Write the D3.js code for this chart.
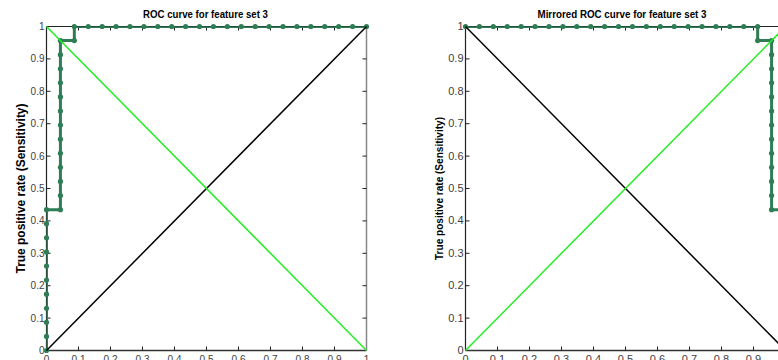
<!DOCTYPE html>
<html>
<head>
<meta charset="utf-8">
<script src="https://cdn.jsdelivr.net/npm/d3@7"></script>
<style>
  body { margin: 0; background: #fff; }
  svg { display: block; font-family: "Liberation Sans", Arial, sans-serif; }
</style>
</head>
<body>
<script>
// counts (23 positives, 23 negatives)
const total = 23;
const fpCount = [0,0,0,0,0,0,0,0,0,0,0,
                 1,1,1,1,1,1,1,1,1,1,1,1,1,
                 2,2,
                 3,4,5,6,7,8,9,10,11,12,13,14,15,16,17,18,19,20,21,22,23];
const tpCount = [0,1,2,3,4,5,6,7,8,9,10,
                 10,11,12,13,14,15,16,17,18,19,20,21,22,
                 22,23,
                 23,23,23,23,23,23,23,23,23,23,23,23,23,23,23,23,23,23,23,23,23];
const ticks = [0,0.1,0.2,0.3,0.4,0.5,0.6,0.7,0.8,0.9,1];
const titles = ['ROC curve for feature set 3', 'Mirrored ROC curve for feature set 3'];
const yLabel = 'True positive rate (Sensitivity)';

const width = 778, height = 360;
const curveColor = '#2e7d55';
const limeColor = '#22ee22';

const svg = d3.select('body').append('svg')
    .attr('width', width)
    .attr('height', height);

const roc = fpCount.map((f, i) => ({x: f / total, y: tpCount[i] / total}));

function drawPanel(opt) {
    const x = d3.scaleLinear().domain([0, 1]).range([opt.left, opt.left + 320]);
    const y = d3.scaleLinear().domain([0, 1]).range([350.5, 26.5]);
    const g = svg.append('g');

    g.append('clipPath').attr('id', opt.id)
        .append('rect')
        .attr('x', x(0)).attr('y', y(1))
        .attr('width', x(1) - x(0)).attr('height', y(0) - y(1));

    // box
    g.append('line').attr('x1', x(0)).attr('x2', x(1)).attr('y1', y(1)).attr('y2', y(1))
        .attr('stroke', '#222').attr('stroke-width', 1);
    g.append('line').attr('x1', x(1)).attr('x2', x(1)).attr('y1', y(0)).attr('y2', y(1))
        .attr('stroke', '#888').attr('stroke-width', 1.5);
    g.append('line').attr('x1', x(0)).attr('x2', x(1)).attr('y1', y(0)).attr('y2', y(0))
        .attr('stroke', '#333').attr('stroke-width', 1.5);
    g.append('line').attr('x1', x(0)).attr('x2', x(0)).attr('y1', y(0)).attr('y2', y(1))
        .attr('stroke', '#222').attr('stroke-width', 1.2);

    // inward ticks
    const inner = ticks.slice(1, -1);
    inner.forEach(t => {
        g.append('line').attr('x1', x(t)).attr('x2', x(t)).attr('y1', y(0)).attr('y2', y(0) - 4).attr('stroke', '#222');
        g.append('line').attr('x1', x(t)).attr('x2', x(t)).attr('y1', y(1)).attr('y2', y(1) + 4).attr('stroke', '#222');
        g.append('line').attr('y1', y(t)).attr('y2', y(t)).attr('x1', x(0)).attr('x2', x(0) + 4).attr('stroke', '#222');
        g.append('line').attr('y1', y(t)).attr('y2', y(t)).attr('x1', x(1)).attr('x2', x(1) - 4).attr('stroke', '#222');
    });

    // tick labels
    g.selectAll('.ylab').data(ticks).enter().append('text')
        .attr('x', x(0) - 2).attr('y', d => y(d) + 3.5)
        .attr('text-anchor', 'end')
        .attr('font-size', opt.tickSize)
        .attr('fill', '#404040')
        .text(d => d3.format('')(d));
    g.selectAll('.xlab').data(ticks).enter().append('text')
        .attr('x', d => x(d)).attr('y', y(0) + 12)
        .attr('text-anchor', 'middle')
        .attr('font-size', opt.tickSize)
        .attr('fill', '#404040')
        .text(d => d3.format('')(d));

    // title
    g.append('text')
        .attr('x', opt.titleX).attr('y', 18)
        .attr('text-anchor', 'middle')
        .attr('font-size', 10).attr('font-weight', 'bold')
        .attr('textLength', opt.titleLen).attr('lengthAdjust', 'spacingAndGlyphs')
        .text(opt.title);

    // y label
    g.append('text')
        .attr('transform', `translate(${opt.yLabelX},${(y(0) + y(1)) / 2}) rotate(-90)`)
        .attr('text-anchor', 'middle')
        .attr('dy', '0.35em')
        .attr('font-size', opt.yLabelSize).attr('font-weight', 'bold')
        .attr('textLength', opt.yLabelLen).attr('lengthAdjust', 'spacingAndGlyphs')
        .text(yLabel);

    const pts = roc.map(d => ({x: opt.mirror ? 1 - d.x : d.x, y: d.y}));
    const line = d3.line().x(d => x(d.x)).y(d => y(d.y));

    g.append('path').datum(pts)
        .attr('d', line)
        .attr('fill', 'none')
        .attr('stroke', curveColor)
        .attr('stroke-width', 3)
        .attr('clip-path', `url(#${opt.id})`);
    g.selectAll('.dot').data(pts).enter().append('circle')
        .attr('cx', d => x(d.x)).attr('cy', d => y(d.y))
        .attr('r', 2.6)
        .attr('fill', curveColor);

    // chance diagonals
    const up = [{x: 0, y: 0}, {x: 1, y: 1}];
    const down = [{x: 0, y: 1}, {x: 1, y: 0}];
    g.append('path').datum(opt.mirror ? down : up)
        .attr('d', line).attr('stroke', '#000').attr('stroke-width', 1.5).attr('fill', 'none');
    g.append('path').datum(opt.mirror ? up : down)
        .attr('d', line).attr('stroke', limeColor).attr('stroke-width', 1.5).attr('fill', 'none');
}

drawPanel({id: 'clipA', left: 46.5, mirror: false, title: titles[0], titleX: 205.5, titleLen: 125,
           tickSize: 10, yLabelX: 20, yLabelSize: 13, yLabelLen: 170});
drawPanel({id: 'clipB', left: 465.5, mirror: true, title: titles[1], titleX: 622, titleLen: 169,
           tickSize: 11, yLabelX: 439, yLabelSize: 11, yLabelLen: 143});
</script>
</body>
</html>
